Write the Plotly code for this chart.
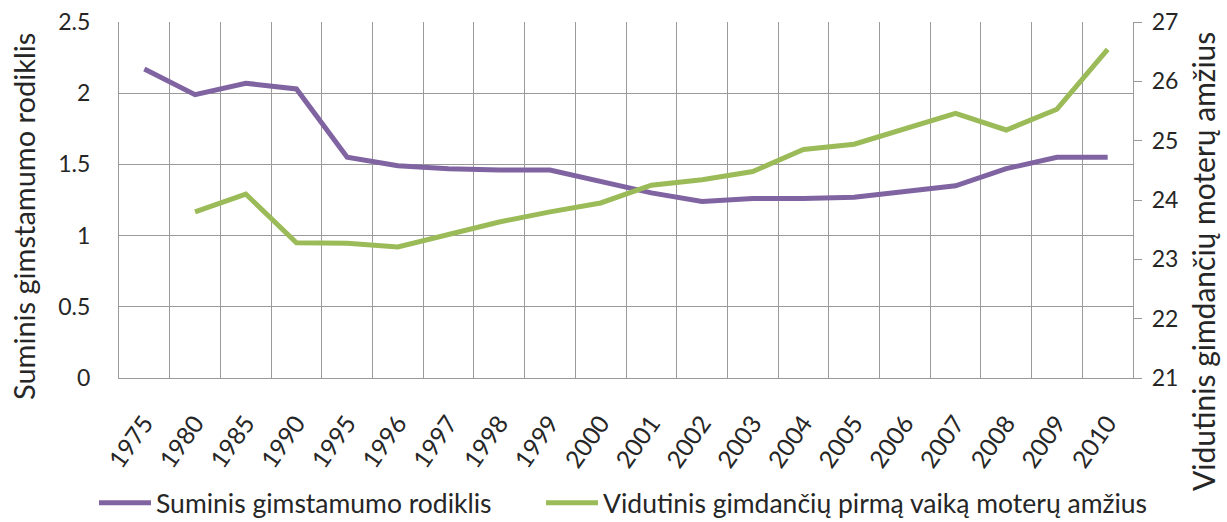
import plotly.graph_objects as go

years = ["1975", "1980", "1985", "1990", "1995", "1996", "1997", "1998", "1999", "2000",
         "2001", "2002", "2003", "2004", "2005", "2006", "2007", "2008", "2009", "2010"]
tfr = [2.17, 1.99, 2.07, 2.03, 1.55, 1.49, 1.47, 1.46, 1.46, 1.38,
       1.30, 1.24, 1.26, 1.26, 1.27, 1.31, 1.35, 1.47, 1.55, 1.55]
age_first = [None, 23.80, 24.10, 23.28, 23.27, 23.21, 23.41, 23.63, 23.80, 23.95,
             24.25, 24.34, 24.48, 24.85, 24.94, 25.21, 25.46, 25.18, 25.53, 26.54]

name1 = "Suminis gimstamumo rodiklis"
name2 = "Vidutinis gimdančių pirmą vaiką moterų amžius"
ytitle_left = "Suminis gimstamumo rodiklis"
ytitle_right = "Vidutinis gimdančių moterų amžius"

FONT = "Lato"
grid = "#9a9a9a"
txt = "#262626"

W, H = 1227, 522
fig = go.Figure()
fig.add_trace(go.Scatter(x=years, y=tfr, name=name1, mode="lines", legend="legend",
                         line=dict(color="#8064A2", width=5)))
fig.add_trace(go.Scatter(x=years, y=age_first, name=name2, mode="lines", yaxis="y2",
                         legend="legend2", line=dict(color="#9BBB59", width=5)))

leg_common = dict(orientation="h", xanchor="left", y=-0.351, yanchor="middle",
                  font=dict(size=26.5), itemwidth=52, bgcolor="rgba(0,0,0,0)")

fig.update_layout(
    width=W, height=H,
    margin=dict(l=119, r=94, t=22, b=144, autoexpand=False),
    paper_bgcolor="white", plot_bgcolor="white",
    font=dict(family=FONT, size=22, color=txt),
    showlegend=True,
    legend=dict(x=(94 - 119) / 1014, **leg_common),
    legend2=dict(x=(541 - 119) / 1014, **leg_common),
    xaxis=dict(type="category", range=[-0.5, len(years) - 0.5], tickson="boundaries",
               showgrid=True, gridcolor=grid, gridwidth=1.3, showline=True,
               linecolor=grid, linewidth=1.3, tickangle=-55, ticks="",
               tickfont=dict(size=24.5), zeroline=False, automargin=False,
               ticklabelstandoff=20, ticklabeloverflow="allow"),
    yaxis=dict(range=[0, 2.5], dtick=0.5, tick0=0, showgrid=True, gridcolor=grid,
               gridwidth=1.3, showline=True, linecolor=grid, linewidth=1.3,
               tickfont=dict(size=23), ticks="", zeroline=False, automargin=False,
               ticklabelstandoff=23, ticklabeloverflow="allow"),
    yaxis2=dict(range=[21, 27], dtick=1, overlaying="y", side="right", showgrid=False,
                showline=True, linecolor=grid, linewidth=1.3, ticks="outside",
                ticklen=8, tickcolor=grid, tickfont=dict(size=23), zeroline=False,
                automargin=False, ticklabelstandoff=5, ticklabeloverflow="allow"),
    annotations=[
        dict(text=ytitle_left, textangle=-90, xref="paper", yref="paper",
             x=(24 - 119) / 1014, y=(378 - 217) / 356, xanchor="center", yanchor="middle",
             showarrow=False, font=dict(size=29, color=txt)),
        dict(text=ytitle_right, textangle=-90, xref="paper", yref="paper",
             x=(1203 - 119) / 1014, y=(378 - 262) / 356, xanchor="center", yanchor="middle",
             showarrow=False, font=dict(size=30, color=txt)),
    ],
)

fig.write_html("out.html", config={"displayModeBar": False},
               post_script="document.body.style.margin='0';")
